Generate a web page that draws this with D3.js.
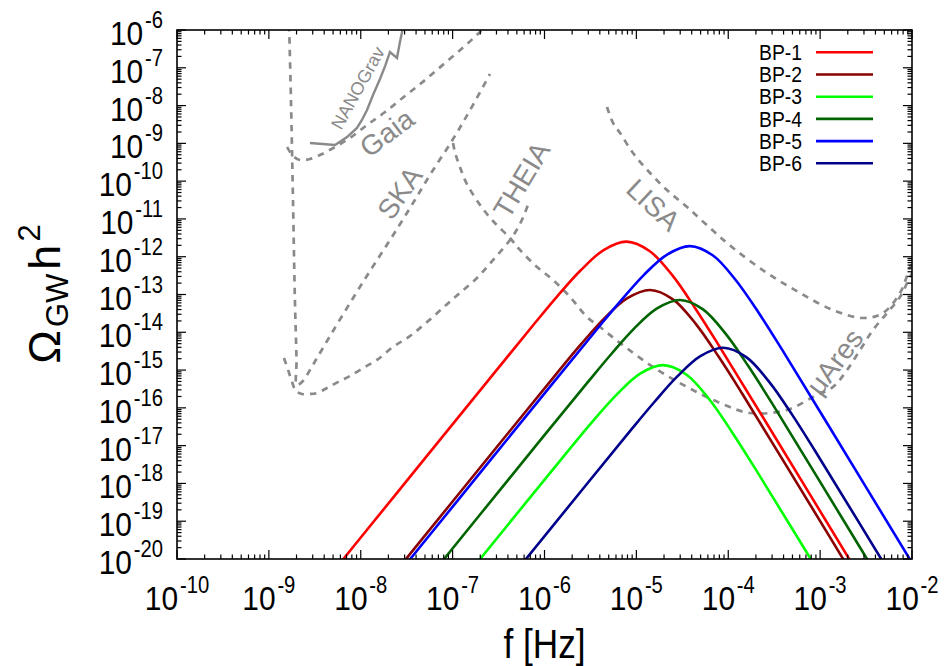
<!DOCTYPE html>
<html>
<head>
<meta charset="utf-8">
<script src="https://cdn.jsdelivr.net/npm/d3@7"></script>
<style>
  html, body { margin: 0; padding: 0; background: #fff; }
  svg { display: block; font-family: "Liberation Sans", Arial, Helvetica, sans-serif; }
</style>
</head>
<body>
<svg id="chart" width="945" height="666"></svg>
<script>
// ---- axis ticks (powers of ten) ----
const xTickExps = [-10, -9, -8, -7, -6, -5, -4, -3, -2];
const yTickExps = [-6, -7, -8, -9, -10, -11, -12, -13, -14, -15, -16, -17, -18, -19, -20];

// ---- benchmark spectra: [f (Hz), Omega_GW h^2] ----
const bp1 = [[2.48e-9, 5.63e-22], [2.48e-8, 5.63e-19], [2.48e-7, 5.61e-16], [7.83e-7, 1.73e-14],
  [1.39e-6, 9.22e-14], [2.48e-6, 4.37e-13], [4.40e-6, 1.50e-12], [7.83e-6, 2.51e-12],
  [1.39e-5, 1.42e-12], [2.48e-5, 3.15e-13], [4.40e-5, 4.21e-14], [7.83e-5, 4.65e-15],
  [2.48e-4, 4.85e-17], [2.48e-3, 4.87e-21]];
const bp2 = [[4.46e-9, 2.96e-23], [4.46e-8, 2.96e-20], [4.46e-7, 2.94e-17], [1.41e-6, 9.10e-16],
  [2.50e-6, 4.84e-15], [4.45e-6, 2.30e-14], [7.91e-6, 7.89e-14], [1.41e-5, 1.32e-13],
  [2.50e-5, 7.46e-14], [4.45e-5, 1.65e-14], [7.91e-5, 2.21e-15], [1.41e-4, 2.44e-16],
  [4.45e-4, 2.55e-18], [4.45e-3, 2.56e-22]];
const bp3 = [[6.21e-9, 3.03e-25], [6.21e-8, 3.03e-22], [6.21e-7, 3.01e-19], [1.96e-6, 9.31e-18],
  [3.49e-6, 4.96e-17], [6.21e-6, 2.35e-16], [1.10e-5, 8.07e-16], [1.96e-5, 1.35e-15],
  [3.49e-5, 7.64e-16], [6.21e-5, 1.69e-16], [1.10e-4, 2.27e-17], [1.96e-4, 2.50e-18],
  [6.21e-4, 2.61e-20], [6.21e-3, 2.62e-24]];
const bp4 = [[9.44e-9, 1.60e-23], [9.44e-8, 1.60e-20], [9.44e-7, 1.60e-17], [2.99e-6, 4.93e-16],
  [5.31e-6, 2.62e-15], [9.44e-6, 1.25e-14], [1.68e-5, 4.28e-14], [2.99e-5, 7.15e-14],
  [5.31e-5, 4.05e-14], [9.44e-5, 8.95e-15], [1.68e-4, 1.20e-15], [2.99e-4, 1.33e-16],
  [9.44e-4, 1.38e-18], [9.44e-3, 1.39e-22]];
const bp5 = [[1.21e-8, 4.28e-22], [1.21e-7, 4.28e-19], [1.21e-6, 4.26e-16], [3.84e-6, 1.32e-14],
  [6.82e-6, 7.00e-14], [1.21e-5, 3.32e-13], [2.16e-5, 1.14e-12], [3.84e-5, 1.91e-12],
  [6.82e-5, 1.08e-12], [1.21e-4, 2.39e-13], [2.16e-4, 3.20e-14], [3.84e-4, 3.53e-15],
  [1.21e-3, 3.68e-17], [1.21e-2, 3.70e-21]];
const bp6 = [[2.79e-8, 8.73e-25], [2.79e-7, 8.73e-22], [2.79e-6, 8.69e-19], [8.83e-6, 2.69e-17],
  [1.57e-5, 1.43e-16], [2.79e-5, 6.78e-16], [4.97e-5, 2.33e-15], [8.83e-5, 3.89e-15],
  [1.57e-4, 2.20e-15], [2.79e-4, 4.87e-16], [4.97e-4, 6.53e-17], [8.83e-4, 7.21e-18],
  [2.79e-3, 7.52e-20], [2.79e-2, 7.55e-24]];

const seriesNames = ["BP-1", "BP-2", "BP-3", "BP-4", "BP-5", "BP-6"];
const seriesData = [bp1, bp2, bp3, bp4, bp5, bp6];
const seriesColors = ["#ff0000", "#8b0000", "#00ff00", "#006400", "#0000ff", "#00008b"];

// ---- detector sensitivity curves: [f (Hz), Omega_GW h^2] ----
const nanograv = [[2.80e-9, 1.02e-9], [5.25e-9, 9.05e-10], [7.09e-9, 1.47e-9], [9.10e-9, 2.55e-9],
  [1.03e-8, 4.15e-9], [1.17e-8, 7.63e-9], [1.36e-8, 1.91e-8], [1.62e-8, 5.05e-8],
  [1.84e-8, 1.11e-7], [2.08e-8, 2.62e-7], [2.48e-8, 1.82e-7], [2.67e-8, 4.81e-7], [2.88e-8, 1.13e-6]];
const gaia = [[1.58e-9, 8.01e-10], [1.83e-9, 4.63e-10], [2.18e-9, 3.63e-10], [2.80e-9, 3.86e-10],
  [3.79e-9, 5.23e-10], [5.25e-9, 8.01e-10], [7.64e-9, 1.39e-9], [1.17e-8, 3.06e-9],
  [1.84e-8, 6.76e-9], [3.03e-8, 1.79e-8], [5.01e-8, 4.75e-8], [8.26e-8, 1.34e-7],
  [1.36e-7, 3.77e-7], [1.99e-7, 8.85e-7], [2.89e-7, 1.95e-6]];
const ska = [[1.66e-9, 1.36e-6], [1.74e-9, 1.40e-8], [1.83e-9, 3.17e-11], [1.92e-9, 7.15e-14],
  [2.00e-9, 1.85e-15], [2.02e-9, 4.03e-16], [2.35e-9, 5.14e-16], [2.80e-9, 1.00e-15],
  [3.34e-9, 2.09e-15], [4.63e-9, 7.98e-15], [7.64e-9, 5.95e-14], [1.26e-8, 4.19e-13],
  [2.08e-8, 2.77e-12], [3.44e-8, 1.95e-11], [5.67e-8, 1.46e-10], [1.01e-7, 1.30e-9],
  [1.55e-7, 7.63e-9], [2.55e-7, 6.85e-8]];
const theia = [[1.46e-9, 2.09e-15], [1.62e-9, 1.00e-15], [1.79e-9, 4.83e-16], [1.97e-9, 2.79e-16],
  [2.29e-9, 2.33e-16], [2.80e-9, 2.33e-16], [3.34e-9, 2.47e-16], [4.29e-9, 3.36e-16],
  [5.94e-9, 5.14e-16], [7.64e-9, 6.97e-16], [1.11e-8, 1.21e-15], [1.50e-8, 1.85e-15],
  [2.24e-8, 4.08e-15], [3.44e-8, 7.98e-15], [5.26e-8, 1.87e-14], [8.05e-8, 4.67e-14],
  [1.20e-7, 1.10e-13], [1.84e-7, 2.73e-13], [2.75e-7, 8.18e-13], [4.21e-7, 2.77e-12],
  [5.41e-7, 7.34e-12], [6.61e-7, 2.34e-11]];
const lisa = [[4.79e-6, 9.17e-9], [5.57e-6, 3.46e-9], [6.64e-6, 1.88e-9], [9.19e-6, 5.56e-10],
  [1.41e-5, 1.64e-10], [2.15e-5, 5.83e-11], [3.56e-5, 2.07e-11], [6.33e-5, 5.75e-12],
  [1.13e-4, 1.70e-12], [2.64e-4, 3.71e-13], [6.04e-4, 1.10e-13], [1.38e-3, 3.89e-14],
  [2.93e-3, 2.39e-14], [4.83e-3, 3.24e-14], [7.40e-3, 1.10e-13], [9.51e-3, 5.35e-13],
  [1.22e-2, 2.77e-12]];
const muares = [[1.01e-7, 1.02e-9], [1.06e-7, 5.91e-10], [1.20e-7, 2.37e-10], [1.43e-7, 8.40e-11],
  [1.99e-7, 2.34e-11], [2.75e-7, 8.81e-12], [4.21e-7, 3.13e-12], [5.41e-7, 1.51e-12],
  [8.29e-7, 5.35e-13], [1.24e-6, 2.42e-13], [1.90e-6, 8.59e-14], [2.90e-6, 2.54e-14],
  [4.02e-6, 1.38e-14], [6.64e-6, 5.21e-15], [1.52e-5, 1.21e-15], [3.56e-5, 3.57e-16],
  [8.13e-5, 1.35e-16], [1.72e-4, 7.31e-17], [4.36e-4, 8.78e-17], [8.37e-4, 1.94e-16],
  [1.38e-3, 3.57e-16], [1.96e-3, 1.00e-15], [2.72e-3, 3.40e-15], [3.76e-3, 1.15e-14],
  [5.35e-3, 3.24e-14], [7.40e-3, 8.59e-14], [9.51e-3, 2.90e-13], [1.22e-2, 8.18e-13]];

// detector labels: text, f, Omega, rotation (deg), size
const detLabels = [
  ["NANOGrav", 9.33e-9, 2.92e-8, -61, 18],
  ["Gaia", 1.93e-8, 1.88e-9, -37, 28],
  ["SKA", 2.67e-8, 4.85e-11, -55, 28],
  ["THEIA", 5.65e-7, 1.07e-10, -59, 28],
  ["LISA", 1.52e-5, 2.34e-11, 43, 28],
  ["\u03bcAres", 1.45e-3, 1.64e-15, -53, 28]
];

// ---- layout ----
const plot = { left: 177, right: 912, top: 30, bottom: 559 };
const condense = 0.88;   // horizontal squeeze of the black text
const svg = d3.select("#chart");

const x = d3.scaleLog().domain([1e-10, 1e-2]).range([plot.left, plot.right]);
const y = d3.scaleLog().domain([1e-20, 1e-6]).range([plot.bottom, plot.top]);

svg.append("defs").append("clipPath").attr("id", "plotClip")
  .append("rect")
  .attr("x", plot.left).attr("y", plot.top)
  .attr("width", plot.right - plot.left).attr("height", plot.bottom - plot.top);

const inner = svg.append("g").attr("clip-path", "url(#plotClip)");

const smooth = d3.line().x(d => x(d[0])).y(d => y(d[1])).curve(d3.curveCatmullRom.alpha(0.5));
const straight = d3.line().x(d => x(d[0])).y(d => y(d[1]));

// detector curves (grey)
const grey = "#8a8a8a";
[gaia, ska, theia, lisa, muares].forEach(c => {
  inner.append("path").attr("d", smooth(c))
    .attr("fill", "none").attr("stroke", grey).attr("stroke-width", 2.7)
    .attr("stroke-dasharray", "6.5,6");
});
inner.append("path").attr("d", straight(nanograv))
  .attr("fill", "none").attr("stroke", grey).attr("stroke-width", 2.4)
  .attr("stroke-linejoin", "miter");

// detector labels
detLabels.forEach(([t, f, o, a, s]) => {
  svg.append("text")
    .attr("transform", `translate(${x(f)},${y(o)}) rotate(${a})`)
    .attr("text-anchor", "middle").attr("dominant-baseline", "central")
    .attr("font-size", s).attr("fill", grey)
    .text(t);
});

// benchmark spectra
seriesData.forEach((d, i) => {
  inner.append("path").attr("d", smooth(d))
    .attr("fill", "none").attr("stroke", seriesColors[i]).attr("stroke-width", 2.6);
});

// ---- frame and ticks ----
const axes = svg.append("g").attr("stroke", "#000");
const majorLen = 9, minorLen = 4.5;
const xMajors = xTickExps.map(e => Math.pow(10, e));
const yMajors = yTickExps.map(e => Math.pow(10, e));
const xMinors = [], yMinors = [];
for (let e = -10; e < -2; e++) for (let k = 2; k <= 9; k++) xMinors.push(k * Math.pow(10, e));
for (let e = -20; e < -6; e++) for (let k = 2; k <= 9; k++) yMinors.push(k * Math.pow(10, e));

function xTicks(vals, len) {
  vals.forEach(v => {
    const px = x(v);
    axes.append("line").attr("x1", px).attr("x2", px).attr("y1", plot.bottom).attr("y2", plot.bottom - len).attr("stroke-width", 1.2);
    axes.append("line").attr("x1", px).attr("x2", px).attr("y1", plot.top).attr("y2", plot.top + len).attr("stroke-width", 1.2);
  });
}
function yTicks(vals, len) {
  vals.forEach(v => {
    const py = y(v);
    axes.append("line").attr("y1", py).attr("y2", py).attr("x1", plot.left).attr("x2", plot.left + len).attr("stroke-width", 1.2);
    axes.append("line").attr("y1", py).attr("y2", py).attr("x1", plot.right).attr("x2", plot.right - len).attr("stroke-width", 1.2);
  });
}
xTicks(xMajors, majorLen); xTicks(xMinors, minorLen);
yTicks(yMajors, majorLen); yTicks(yMinors, minorLen);

axes.append("rect")
  .attr("x", plot.left).attr("y", plot.top)
  .attr("width", plot.right - plot.left).attr("height", plot.bottom - plot.top)
  .attr("fill", "none").attr("stroke-width", 1.6);

// ---- tick labels (10 with superscript exponent) ----
const mainSize = 34, supSize = 23;
function powerLabel(px, py, e, anchor) {
  const t = svg.append("text")
    .attr("transform", `translate(${px},${py}) scale(${condense},1)`)
    .attr("text-anchor", anchor).attr("fill", "#000");
  t.append("tspan").attr("font-size", mainSize).text("10");
  t.append("tspan").attr("font-size", supSize).attr("dx", 2).attr("dy", -17).text(String(e));
}
xTickExps.forEach(e => powerLabel(x(Math.pow(10, e)), 610, e, "middle"));
yTickExps.forEach(e => powerLabel(163, y(Math.pow(10, e)) + 15, e, "end"));

// ---- axis titles ----
svg.append("text")
  .attr("transform", `translate(${(plot.left + plot.right) / 2},658) scale(${condense},1)`)
  .attr("text-anchor", "middle").attr("font-size", 40).attr("fill", "#000")
  .text("f [Hz]");

const yTitle = svg.append("text")
  .attr("transform", "translate(60,294) rotate(-90)")
  .attr("text-anchor", "middle").attr("fill", "#000");
yTitle.append("tspan").attr("font-size", 45).text("\u03a9");
yTitle.append("tspan").attr("font-size", 31).attr("dx", 3).attr("dy", 8).text("GW");
yTitle.append("tspan").attr("font-size", 45).attr("dx", 4).attr("dy", -8).text("h");
yTitle.append("tspan").attr("font-size", 31).attr("dx", 3).attr("dy", -20).text("2");

// ---- legend ----
const legend = svg.append("g");
seriesNames.forEach((n, i) => {
  const ly = 52.3 + i * 22.2;
  legend.append("text")
    .attr("transform", `translate(802,${ly}) scale(${condense},1)`)
    .attr("dy", "0.35em")
    .attr("text-anchor", "end").attr("font-size", 22).attr("fill", "#000").text(n);
  legend.append("line").attr("x1", 816).attr("x2", 873).attr("y1", ly).attr("y2", ly)
    .attr("stroke", seriesColors[i]).attr("stroke-width", 2.6);
});
</script>
</body>
</html>
